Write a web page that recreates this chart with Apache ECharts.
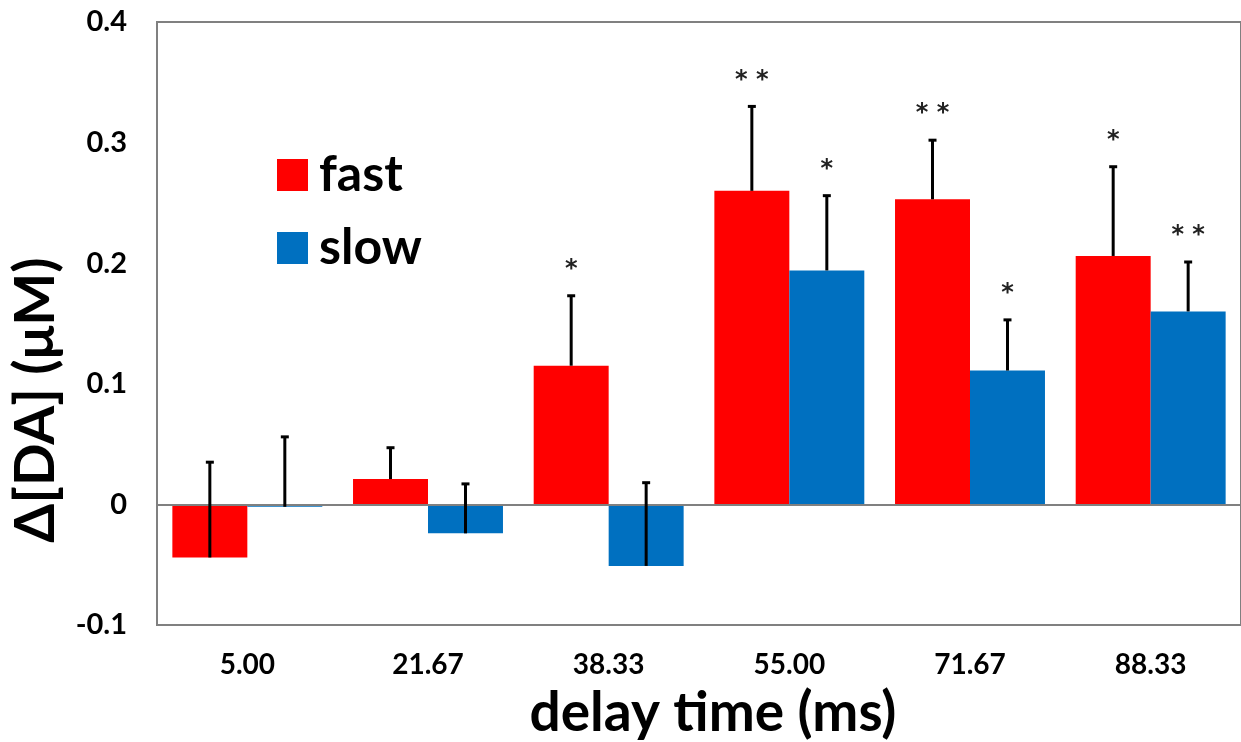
<!DOCTYPE html>
<html>
<head>
<meta charset="utf-8">
<script src="https://cdn.jsdelivr.net/npm/echarts@6/dist/echarts.min.js"></script>
<style>html,body{margin:0;padding:0;background:#fff;}#c{width:1241px;height:742px;}</style>
</head>
<body>
<div id="c"></div>
<script>
const categories = ['5.00', '21.67', '38.33', '55.00', '71.67', '88.33'];
const fastValues = [-0.044, 0.021, 0.115, 0.260, 0.253, 0.206];
const slowValues = [-0.002, -0.024, -0.051, 0.194, 0.111, 0.160];
const fastErrTop = [0.035, 0.047, 0.173, 0.330, 0.302, 0.280];
const slowErrTop = [0.056, 0.017, 0.018, 0.256, 0.153, 0.201];
const fastSig = ['', '', '*', '**', '**', '*'];
const slowSig = ['', '', '', '*', '*', '**'];
const yTicks = { min: -0.1, max: 0.4, interval: 0.1 };

const FONT = 'Lato';
const CAT_GAP = 0.17;

function errData(vals, tops) {
  return vals.map((v, i) => [i, v, tops[i]]);
}
function sigFor(side) { return side < 0 ? fastSig : slowSig; }

function errRender(side) {
  return function (params, api) {
    const idx = api.value(0);
    const catW = api.size([1, 0])[0];
    const barW = catW * (1 - CAT_GAP) / 2;
    const off = side * barW / 2;
    const p0 = api.coord([idx, api.value(1)]);
    const p1 = api.coord([idx, api.value(2)]);
    const x = p0[0] + off;
    const sig = sigFor(side)[idx];
    const children = [
      { type: 'line', shape: { x1: x, y1: p0[1], x2: x, y2: p1[1] }, style: { stroke: '#000', lineWidth: 3 } },
      { type: 'line', shape: { x1: x - 4, y1: p1[1], x2: x + 4, y2: p1[1] }, style: { stroke: '#000', lineWidth: 3 } }
    ];
    if (sig) {
      children.push({ type: 'text', style: { text: sig.split('').join(' '), x: x, y: p1[1] - 14, align: 'center', verticalAlign: 'bottom', font: 'bold 24px "DejaVu Sans"', fill: '#222' } });
    }
    return { type: 'group', children: children };
  };
}

const chart = echarts.init(document.getElementById('c'), null, { renderer: 'canvas' });
chart.setOption({
  animation: false,
  backgroundColor: '#fff',
  grid: { left: 157, top: 22, right: -3, bottom: 117, show: true, borderColor: '#808080', borderWidth: 2, backgroundColor: 'transparent' },
  legend: {
    data: ['fast', 'slow'],
    orient: 'vertical',
    left: 272, top: 145,
    itemWidth: 31, itemHeight: 32, itemGap: 23,
    icon: 'rect',
    textStyle: { fontFamily: FONT, fontWeight: 'bold', fontSize: 50, lineHeight: 50, color: '#000', padding: [0, 0, 0, 6] }
  },
  graphic: [{
    type: 'text',
    x: 36, y: 400,
    rotation: Math.PI / 2,
    style: { text: 'Δ[DA] (μM)', align: 'center', verticalAlign: 'middle', font: 'bold 56px Lato', fill: '#000' }
  }, {
    type: 'text',
    x: 713, y: 713,
    style: { text: 'delay time (ms)', align: 'center', verticalAlign: 'middle', font: 'bold 55px Lato', fill: '#000' }
  }],
  xAxis: {
    type: 'category',
    data: categories,
    axisLine: { show: false },
    axisTick: { show: false },
    axisLabel: { fontFamily: FONT, fontWeight: 'bold', fontSize: 28, color: '#000', margin: 26 }
  },
  yAxis: {
    type: 'value',
    min: yTicks.min, max: yTicks.max, interval: yTicks.interval,
    axisLine: { show: true, lineStyle: { color: '#808080', width: 2 } },
    axisTick: { show: false },
    splitLine: { show: false },
    axisLabel: {
      fontFamily: FONT, fontWeight: 'bold', fontSize: 29, color: '#000', margin: 30,
      formatter: v => Math.abs(v) < 1e-9 ? '0' : v.toFixed(1)
    }
  },
  series: [
    {
      name: 'fast', type: 'bar', data: fastValues, barGap: '0%', barCategoryGap: (CAT_GAP * 100) + '%',
      itemStyle: { color: '#FF0000' },
      markLine: { silent: true, symbol: 'none', label: { show: false }, lineStyle: { color: '#808080', width: 2, type: 'solid' }, data: [{ yAxis: 0 }] }
    },
    {
      name: 'slow', type: 'bar', data: slowValues,
      itemStyle: { color: '#0070C0' }
    },
    { name: 'fastErr', type: 'custom', renderItem: errRender(-1), data: errData(fastValues, fastErrTop), z: 5 },
    { name: 'slowErr', type: 'custom', renderItem: errRender(1), data: errData(slowValues, slowErrTop), z: 5 }
  ]
});
</script>
</body>
</html>
